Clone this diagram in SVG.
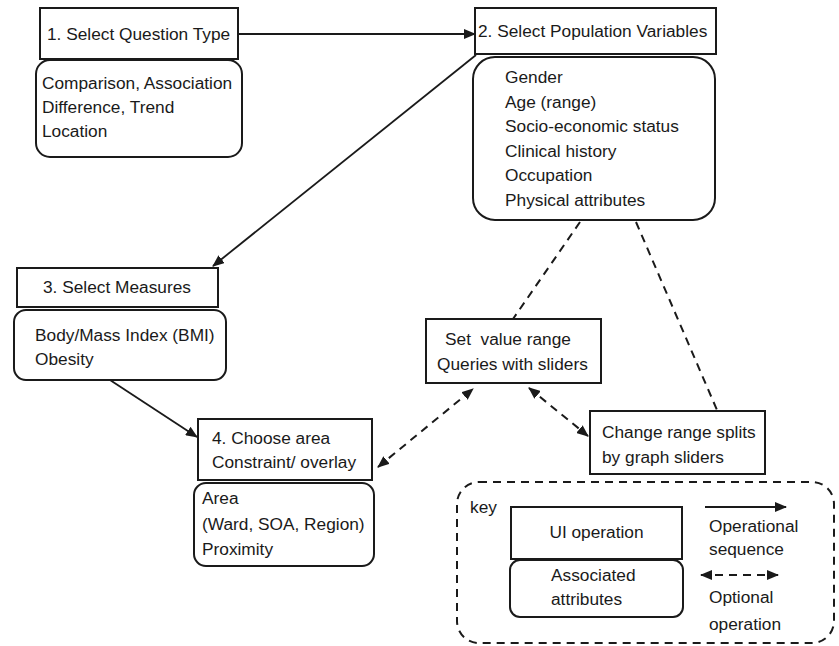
<svg xmlns="http://www.w3.org/2000/svg" width="839" height="646" viewBox="0 0 839 646">
<style>
text{font-family:"Liberation Sans",Arial,sans-serif;font-size:17.3px;fill:#1a1a1a}
.box{fill:#fff;stroke:#1a1a1a;stroke-width:2}
.conn{fill:none;stroke:#1a1a1a;stroke-width:1.8}
.dash{fill:none;stroke:#1a1a1a;stroke-width:2;stroke-dasharray:8 6}
</style>
<defs>
<marker id="ah" viewBox="0 0 12 10" refX="11" refY="5" markerWidth="12" markerHeight="10" markerUnits="userSpaceOnUse" orient="auto-start-reverse">
<path d="M0,0 L12,5 L0,10 Z" fill="#1a1a1a"/>
</marker>
</defs>
<rect width="839" height="646" fill="#fff"/>
<g id="connectors">
<line class="conn" x1="238" y1="34" x2="475" y2="34" marker-end="url(#ah)"/>
<line class="conn" x1="476" y1="55" x2="213" y2="266" marker-end="url(#ah)"/>
<line class="conn" x1="110" y1="380" x2="197" y2="437" marker-end="url(#ah)"/>
<line class="dash" x1="378" y1="467" x2="473" y2="389" marker-start="url(#ah)" marker-end="url(#ah)"/>
<line class="dash" x1="529" y1="388" x2="588" y2="436" marker-start="url(#ah)" marker-end="url(#ah)"/>
<line class="dash" x1="580" y1="222" x2="513" y2="319"/>
<line class="dash" x1="636" y1="222" x2="717" y2="410"/>
</g>
<g id="node1">
<rect class="box" x="40" y="8" width="198" height="51"/>
<text x="47" y="40">1. Select Question Type</text>
<rect class="box" x="36" y="60" width="206" height="97" rx="14"/>
<text x="42" y="89">Comparison, Association</text>
<text x="42" y="113">Difference, Trend</text>
<text x="42" y="137">Location</text>
</g>
<g id="node2">
<rect class="box" x="475" y="8" width="241" height="46"/>
<text x="478" y="37">2. Select Population Variables</text>
<rect class="box" x="473" y="57" width="242" height="163" rx="22"/>
<text x="505" y="83">Gender</text>
<text x="505" y="107.5">Age (range)</text>
<text x="505" y="132">Socio-economic status</text>
<text x="505" y="156.5">Clinical history</text>
<text x="505" y="181">Occupation</text>
<text x="505" y="205.5">Physical attributes</text>
</g>
<g id="node3">
<rect class="box" x="17" y="268" width="201" height="39"/>
<text x="43" y="293">3. Select Measures</text>
<rect class="box" x="14" y="310" width="212" height="70" rx="12"/>
<text x="35" y="341">Body/Mass Index (BMI)</text>
<text x="35" y="365">Obesity</text>
</g>
<g id="node4">
<rect class="box" x="198" y="419" width="174" height="61"/>
<text x="212" y="444">4. Choose area</text>
<text x="212" y="468">Constraint/ overlay</text>
<rect class="box" x="194" y="483" width="180" height="83" rx="12"/>
<text x="202" y="504">Area</text>
<text x="202" y="530">(Ward, SOA, Region)</text>
<text x="202" y="555">Proximity</text>
</g>
<g id="node-set-range">
<rect class="box" x="426" y="319" width="175" height="64"/>
<text x="445" y="345" xml:space="preserve" style="white-space:pre">Set  value range</text>
<text x="437" y="370">Queries with sliders</text>
</g>
<g id="node-change-splits">
<rect class="box" x="590" y="411" width="175" height="63"/>
<text x="602" y="438">Change range splits</text>
<text x="602" y="463">by graph sliders</text>
</g>
<g id="key">
<rect x="457" y="482" width="377" height="161" rx="22" fill="none" stroke="#1a1a1a" stroke-width="2" stroke-dasharray="8 6"/>
<text x="470" y="513">key</text>
<rect class="box" x="511" y="507" width="171" height="52"/>
<text x="596.5" y="538" text-anchor="middle">UI operation</text>
<rect class="box" x="510" y="560" width="173" height="57" rx="10"/>
<text x="551" y="581">Associated</text>
<text x="551" y="605">attributes</text>
<line class="conn" x1="705" y1="507" x2="786" y2="507" marker-end="url(#ah)"/>
<text x="709" y="532">Operational</text>
<text x="709" y="555">sequence</text>
<line class="dash" x1="701" y1="575" x2="778" y2="575" marker-start="url(#ah)" marker-end="url(#ah)"/>
<text x="709" y="603">Optional</text>
<text x="709" y="630">operation</text>
</g>
</svg>
